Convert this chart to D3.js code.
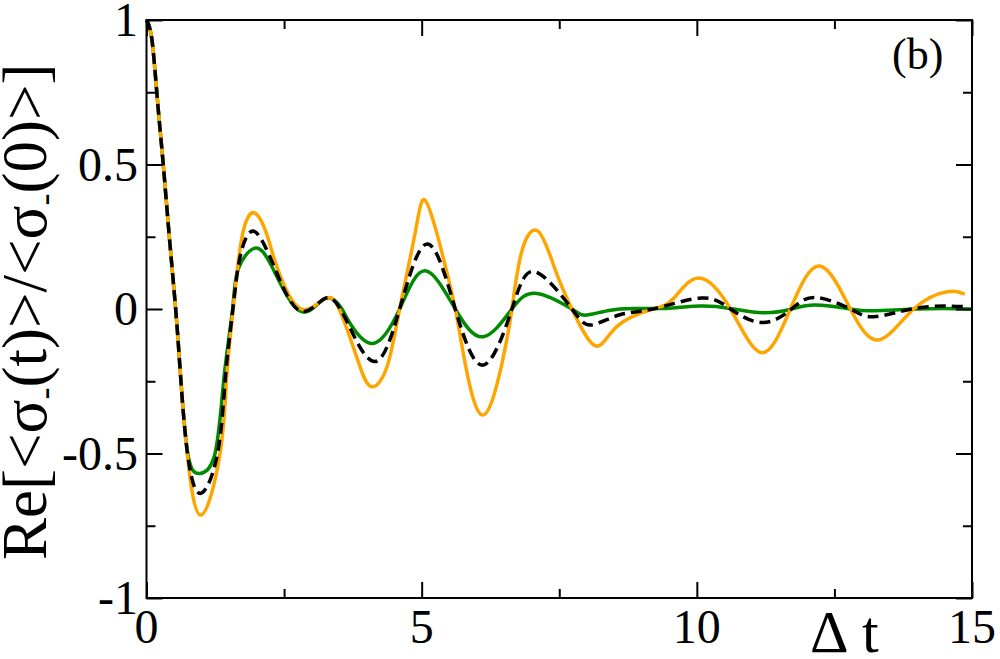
<!DOCTYPE html>
<html lang="en">
<head>
	<meta charset="utf-8">
	<title>Re correlation vs delta t</title>
	<script src="https://d3js.org/d3.v7.min.js"></script>
	<style>
		body { margin: 0; background: #fff; }
		text { font-family: "Liberation Serif", "Times New Roman", serif; fill: #000; }
	</style>
</head>
<body>
	<script>
    // values (t, Re value) at extrema, zero crossings and a few in between
    var orangeT = [0, 0.1, 0.2, 0.3, 0.41, 0.53, 0.62, 0.74, 0.985, 1.336, 1.458, 1.575, 1.736, 1.97, 2.2, 2.37, 2.79, 3.25, 3.5, 3.7, 3.88, 4.09, 4.37, 4.6, 4.88, 5.06, 5.34, 5.61, 5.79, 6.11, 6.46, 6.64, 6.82, 7.12, 7.43, 7.73, 8.15, 8.55, 9.2, 9.58, 10.03, 10.61, 11.18, 11.7, 12.23, 12.79, 13.31, 13.94, 14.55, 14.87];
    var orangeV = [1, 0.93, 0.72, 0.51, 0.26, 0, -0.234, -0.5, -0.713, -0.5, -0.234, 0, 0.25, 0.332, 0.25, 0.146, 0.002, 0.037, 0, -0.1, -0.2, -0.269, -0.2, 0, 0.262, 0.377, 0.216, 0, -0.188, -0.367, -0.188, 0, 0.2, 0.268, 0.134, 0, -0.127, -0.06, 0, 0.037, 0.107, 0, -0.151, 0, 0.149, 0, -0.107, 0, 0.06, 0.051];

    var blackT = [0, 0.1, 0.2, 0.3, 0.41, 0.53, 0.62, 0.745, 0.975, 1.29, 1.435, 1.57, 1.7, 1.95, 2.32, 2.79, 3.25, 3.52, 3.7, 4.15, 4.6, 5.1, 5.61, 6.12, 6.64, 7.06, 7.73, 8.09, 8.6, 9.2, 10.08, 10.61, 11.2, 11.72, 12.15, 12.79, 13.22, 13.9, 14.5, 14.87];
    var blackV = [1, 0.93, 0.72, 0.51, 0.26, 0, -0.234, -0.5, -0.638, -0.5, -0.234, 0, 0.18, 0.269, 0.146, -0.007, 0.037, 0, -0.066, -0.182, 0, 0.225, 0, -0.194, 0, 0.129, 0, -0.055, -0.02, 0, 0.038, 0, -0.047, 0, 0.04, 0, -0.027, 0, 0.01, 0.008];

    var greenT = [0, 0.1, 0.2, 0.3, 0.41, 0.53, 0.62, 0.75, 0.96, 1.245, 1.41, 1.565, 1.66, 1.955, 2.28, 2.79, 3.25, 3.55, 3.7, 4.12, 4.6, 5.06, 5.61, 6.12, 6.64, 7.09, 7.73, 8.0, 8.4, 8.85, 9.5, 10.06, 10.61, 11.2, 11.72, 12.15, 12.79, 13.2, 14.0, 14.5, 15];
    var greenV = [1, 0.93, 0.72, 0.51, 0.26, 0, -0.234, -0.5, -0.569, -0.5, -0.234, 0, 0.135, 0.21, 0.146, -0.007, 0.037, 0, -0.05, -0.119, 0, 0.132, 0, -0.096, 0, 0.054, 0, -0.021, -0.005, 0.002, 0.003, 0.01, 0.002, -0.013, 0, 0.014, 0, -0.006, 0, 0.002, 0];

    var xTicks = [0, 5, 10, 15];
    var xMinor = [2.5, 7.5, 12.5];
    var yTicks = [-1, -0.5, 0, 0.5, 1];
    var yMinor = [-0.75, -0.25, 0.25, 0.75];

    var width = 1000,
        height = 659;

    var x = d3.scaleLinear().domain([0, 15]).range([146.5, 972]);
    var y = d3.scaleLinear().domain([-1, 1]).range([598, 20]);

    var svg = d3.select("body").append("svg")
        .attr("width", width)
        .attr("height", height);

    function pairs(ts, vs) {
      return ts.map(function(t, i) { return [t, vs[i]]; });
    }

    var line = d3.line()
        .x(function(d) { return x(d[0]); })
        .y(function(d) { return y(d[1]); })
        .curve(d3.curveNatural);

    var series = [
      { data: pairs(greenT, greenV), color: "#008b00", dash: null },
      { data: pairs(orangeT, orangeV), color: "#ffa500", dash: null },
      { data: pairs(blackT, blackV), color: "#000", dash: "11,6" }
    ];

    svg.append("g").selectAll("path")
      .data(series)
      .enter().append("path")
        .attr("d", function(d) { return line(d.data); })
        .attr("fill", "none")
        .attr("stroke", function(d) { return d.color; })
        .attr("stroke-width", 3.5)
        .attr("stroke-dasharray", function(d) { return d.dash; });

    // frame with inward ticks on all four sides
    var major = 16, minor = 9;
    var axes = svg.append("g");

    axes.append("g").attr("transform", "translate(0,598)")
      .call(d3.axisTop(x).tickValues(xTicks).tickSize(major).tickFormat(""));
    axes.append("g").attr("transform", "translate(0,598)")
      .call(d3.axisTop(x).tickValues(xMinor).tickSize(minor).tickFormat(""));
    axes.append("g").attr("transform", "translate(0,20)")
      .call(d3.axisBottom(x).tickValues(xTicks).tickSize(major).tickFormat(""));
    axes.append("g").attr("transform", "translate(0,20)")
      .call(d3.axisBottom(x).tickValues(xMinor).tickSize(minor).tickFormat(""));
    axes.append("g").attr("transform", "translate(146.5,0)")
      .call(d3.axisRight(y).tickValues(yTicks).tickSize(major).tickFormat(""));
    axes.append("g").attr("transform", "translate(146.5,0)")
      .call(d3.axisRight(y).tickValues(yMinor).tickSize(minor).tickFormat(""));
    axes.append("g").attr("transform", "translate(972,0)")
      .call(d3.axisLeft(y).tickValues(yTicks).tickSize(major).tickFormat(""));
    axes.append("g").attr("transform", "translate(972,0)")
      .call(d3.axisLeft(y).tickValues(yMinor).tickSize(minor).tickFormat(""));
    axes.selectAll(".domain").remove();
    axes.selectAll("line").attr("stroke", "#000").attr("stroke-width", 2);

    svg.append("rect")
        .attr("x", x(0)).attr("y", y(1))
        .attr("width", x(15) - x(0)).attr("height", y(-1) - y(1))
        .attr("fill", "none").attr("stroke", "#000").attr("stroke-width", 2);

    // tick labels
    svg.append("g").selectAll("text")
      .data(yTicks)
      .enter().append("text")
        .attr("x", 138)
        .attr("y", function(d) { return y(d) + 16; })
        .attr("text-anchor", "end")
        .style("font-size", "48px")
        .text(function(d) { return d.toString(); });

    svg.append("g").selectAll("text")
      .data(xTicks)
      .enter().append("text")
        .attr("x", function(d) { return x(d); })
        .attr("y", 643)
        .attr("text-anchor", "middle")
        .style("font-size", "48px")
        .text(function(d) { return d; });

    // axis titles
    var xlab = svg.append("text")
        .attr("y", 652)
        .style("font-size", "60px");
    xlab.append("tspan").attr("x", 810).text("\u0394");
    xlab.append("tspan").attr("x", 862).text("t");

    var ylab = svg.append("text")
        .attr("transform", "translate(46,560) rotate(-90)")
        .style("font-size", "63px");
    ylab.append("tspan").text("Re[<\u03c3");
    ylab.append("tspan").attr("dy", 10).style("font-size", "36px").text("-");
    ylab.append("tspan").attr("dy", -10).text("(t)>/<\u03c3");
    ylab.append("tspan").attr("dy", 10).style("font-size", "36px").text("-");
    ylab.append("tspan").attr("dy", -10).text("(0)>]");

    svg.append("text")
        .attr("x", 892).attr("y", 69)
        .style("font-size", "44px")
        .text("(b)");
	</script>
</body>
</html>
